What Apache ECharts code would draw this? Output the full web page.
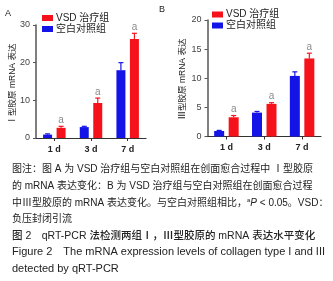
<!DOCTYPE html>
<html><head><meta charset="utf-8">
<script src="https://cdn.jsdelivr.net/npm/echarts@6/dist/echarts.min.js"></script>
<style>html,body{margin:0;padding:0;background:#fff}.c{width:333px;height:281px;position:absolute;left:0;top:0}</style>
</head><body><div class="c" id="ca"></div><div class="c" id="cb"></div><div class="c" id="oa"></div><div class="c" id="ob"></div>
<script>
const categories = ['1 d', '3 d', '7 d'];
const seriesNames = ['VSD 治疗组', '空白对照组'];
// Panel A: collagen I
const aControl = [0.9, 2.9, 18.0];
const aControlErr = [1.1, 3.1, 20.0];
const aVSD = [2.7, 9.3, 26.3];
const aVSDErr = [3.1, 10.6, 27.8];
const aTicks = [0, 10, 20, 30];
// Panel B: collagen III
const bControl = [0.95, 4.1, 10.4];
const bControlErr = [1.05, 4.3, 11.1];
const bVSD = [3.3, 5.6, 13.4];
const bVSDErr = [3.6, 5.8, 14.3];
const bTicks = [0, 5, 10, 15, 20];
const sigMark = 'a';

const RED = '#f5121a', BLUE = '#1414e6';
const FONT = '"Liberation Sans","Noto Sans CJK SC",sans-serif';
const gridA = {left: 36, right: 187, top: 25, bottom: 143};
const gridB = {left: 207.5, right: 12, top: 20, bottom: 144.5};

function errSeries(means, tops, color, offset, withMark) {
  return {
    type: 'custom', z: 5, silent: true,
    data: tops.map((t, i) => [i, means[i], t]),
    renderItem: function (params, api) {
      const i = api.value(0), m = api.value(1), t = api.value(2);
      const p1 = api.coord([i, m]);
      const p2 = api.coord([i, t]);
      const x = p1[0] + offset;
      const children = [
        {type: 'line', shape: {x1: x, y1: p1[1], x2: x, y2: p2[1]}, style: {stroke: color, lineWidth: 1.2}},
        {type: 'line', shape: {x1: x - 2.5, y1: p2[1], x2: x + 2.5, y2: p2[1]}, style: {stroke: color, lineWidth: 1.2}}
      ];
      if (withMark) children.push({type: 'text', x: x, y: p2[1] - 1,
        style: {text: sigMark, fill: '#8a8a8a', font: '10px ' + FONT, align: 'center', verticalAlign: 'bottom'}});
      return {type: 'group', children: children};
    }
  };
}

// Base layer: axes, axis titles, caption
function base(el, grid, ticks, graphics) {
  const chart = echarts.init(document.getElementById(el));
  chart.setOption({
    animation: false,
    grid: grid,
    xAxis: {type: 'category', data: categories,
      axisLine: {show: true, lineStyle: {color: '#333', width: 1.2}},
      axisTick: {show: true, alignWithLabel: true, length: 3, lineStyle: {color: '#333'}},
      axisLabel: {color: '#222', fontSize: 9, fontWeight: 'bold', fontFamily: FONT, margin: 7}},
    yAxis: {type: 'value', min: ticks[0], max: ticks[ticks.length - 1], interval: ticks[1] - ticks[0],
      axisLine: {show: true, lineStyle: {color: '#555', width: 1.5}},
      axisTick: {show: true, length: 3, lineStyle: {color: '#555'}},
      splitLine: {show: false},
      axisLabel: {show: false}},
    series: [],
    graphic: graphics
  });
  // y tick labels placed through the library's own value scale
  const labels = ticks.map(v => {
    const py = chart.convertToPixel({yAxisIndex: 0}, v);
    return {type: 'text', x: grid.left - 6, y: py,
      style: {text: String(v), font: '9px ' + FONT, fill: '#444', align: 'right', verticalAlign: 'middle'}};
  });
  chart.setOption({graphic: graphics.concat(labels)}, {replaceMerge: ['graphic']});
}

// Overlay layer: bars, error bars, legend
function overlay(el, grid, legendPos, ticks, control, controlErr, vsd, vsdErr, barW, gap, off) {
  const chart = echarts.init(document.getElementById(el));
  chart.setOption({
    animation: false,
    grid: grid,
    legend: {data: seriesNames, orient: 'vertical', left: legendPos[0], top: legendPos[1], itemWidth: 11, itemHeight: 6, itemGap: 1,
      textStyle: {fontSize: 10, color: '#222', fontFamily: FONT, padding: [0, 0, 0, -2]}, icon: 'rect'},
    xAxis: {type: 'category', data: categories, show: false},
    yAxis: {type: 'value', min: ticks[0], max: ticks[ticks.length - 1], interval: ticks[1] - ticks[0], show: false, splitLine: {show: false}},
    series: [
      {name: seriesNames[1], type: 'bar', data: control, barWidth: barW, barGap: gap, itemStyle: {color: BLUE}},
      {name: seriesNames[0], type: 'bar', data: vsd, barWidth: barW, barGap: gap, itemStyle: {color: RED}},
      errSeries(control, controlErr, BLUE, -off, false),
      errSeries(vsd, vsdErr, RED, off, true)
    ]
  });
}

const CAP = '10px ' + FONT;
const lines = [
  {y: 171.5, t: '图注：图 A 为 VSD 治疗组与空白对照组在创面愈合过程中 Ⅰ型胶原', f: CAP},
  {y: 188, t: '的 mRNA 表达变化：B 为 VSD 治疗组与空白对照组在创面愈合过程', f: CAP},
  {y: 204.5, rich: true},
  {y: 221, t: '负压封闭引流', f: CAP},
  {y: 237.5, t: '图 2　qRT-PCR 法检测两组Ⅰ，Ⅲ型胶原的 mRNA 表达水平变化', f: '500 10.5px ' + FONT},
  {y: 253.5, t: 'Figure 2　The mRNA expression levels of collagen type I and III', f: '11px ' + FONT},
  {y: 270, t: 'detected by qRT-PCR', f: '11px ' + FONT}
];
const graphicsA = lines.map(l => {
  if (l.rich) {
    return {type: 'text', left: 12, top: l.y - 7, style: {
      text: '中Ⅲ型胶原的 mRNA 表达变化。与空白对照组相比，{s|a}{i|P} < 0.05。VSD：',
      font: CAP, fill: '#222',
      rich: {s: {fontSize: 6, verticalAlign: 'top', fill: '#222', padding: [0, 0, 5, 0]}, i: {fontStyle: 'italic', fontSize: 10, fill: '#222'}}
    }};
  }
  return {type: 'text', left: 12, top: l.y - 7, style: {text: l.t, font: l.f, fill: '#222'}};
});
graphicsA.push({type: 'text', left: 5, top: 9, style: {text: 'A', font: '9px ' + FONT, fill: '#222'}});
graphicsA.push({type: 'text', x: 13, y: 84, rotation: Math.PI / 2,
  style: {text: 'Ⅰ型胶原 mRNA 表达', font: '8.5px ' + FONT, fill: '#222', align: 'center', verticalAlign: 'middle'}});
const graphicsB = [
  {type: 'text', left: 159, top: 5, style: {text: 'B', font: '9px ' + FONT, fill: '#222'}},
  {type: 'text', x: 183, y: 79, rotation: Math.PI / 2,
    style: {text: 'Ⅲ型胶原 mRNA 表达', font: '8.5px ' + FONT, fill: '#222', align: 'center', verticalAlign: 'middle'}}
];

base('ca', gridA, aTicks, graphicsA);
base('cb', gridB, bTicks, graphicsB);
overlay('oa', gridA, [37, 8], aTicks, aControl, aControlErr, aVSD, aVSDErr, 9, '50%', 6.75);
overlay('ob', gridB, [207, 4.5], bTicks, bControl, bControlErr, bVSD, bVSDErr, 10, '45%', 7.25);
</script></body></html>
